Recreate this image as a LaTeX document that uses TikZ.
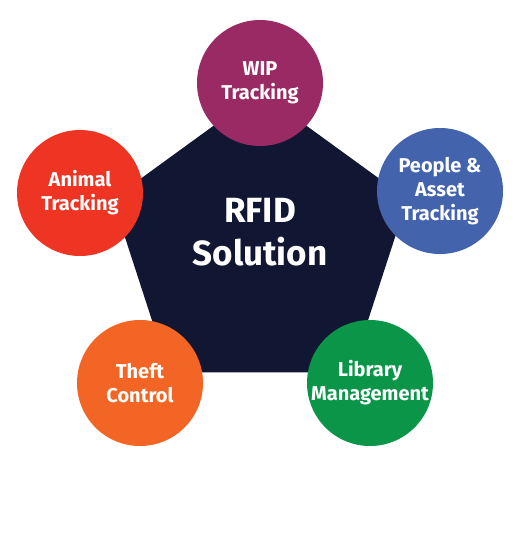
\documentclass[tikz,border=0pt]{standalone}
\usepackage{fontspec}
\setmainfont{Fira Sans}
\usetikzlibrary{shapes.geometric}
\definecolor{navy}{HTML}{111633}
\definecolor{plum}{HTML}{9A2A64}
\definecolor{steel}{HTML}{4363AD}
\definecolor{scarlet}{HTML}{EE3524}
\definecolor{tangerine}{HTML}{F26524}
\definecolor{emerald}{HTML}{0A9548}

\tikzset{
  spot/.style={circle, fill=#1, minimum size=126pt, inner sep=0pt, outer sep=0pt,
    text=white, align=center, font=\bfseries\fontsize{20}{24}\selectfont},
  hub/.style={regular polygon, regular polygon sides=5, minimum size=310pt,
    inner sep=0pt, outer sep=0pt, fill=navy}
}

\begin{document}
\begin{tikzpicture}[x=1pt,y=-1pt]
  \useasboundingbox (0,0) rectangle (520,560);

  % centre pentagon
  \node[hub] (penta) at (260,247) {};
  \node[text=white, align=center, font=\bfseries\fontsize{35}{43}\selectfont] (rfid) at (260,232) {RFID\\Solution};

  % the five uses
  \node[spot=plum] (wip) at (260,83) {WIP\\Tracking};
  \node[spot=steel] (people) at (440,191) {People \&\\Asset\\Tracking};
  \node[spot=scarlet] (animal) at (80,193) {Animal\\Tracking};
  \node[spot=tangerine] (theft) at (140,383) {Theft\\Control};
  \node[spot=emerald] (library) at (370,383) {Library\\Management};
\end{tikzpicture}
\end{document}
